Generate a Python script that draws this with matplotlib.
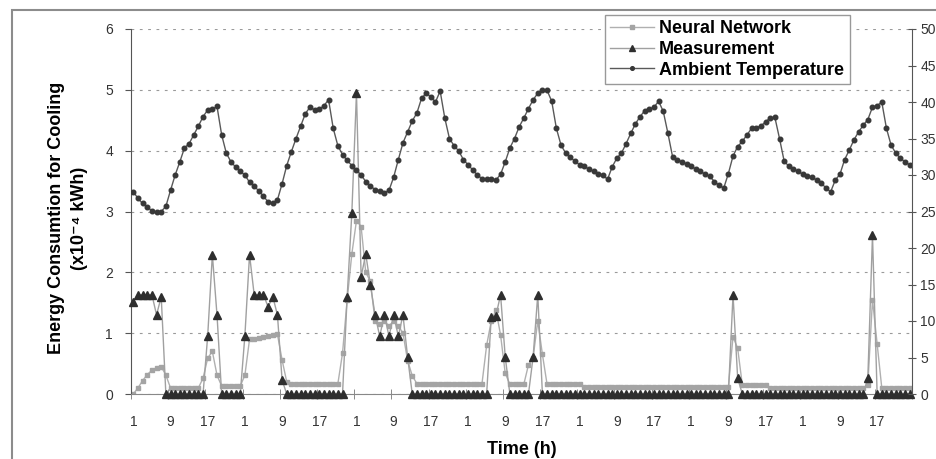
import matplotlib.pyplot as plt
import numpy as np
from matplotlib.patches import Rectangle

plt.rcParams['font.family'] = ['Liberation Sans', 'DejaVu Sans']

# hourly values over 7 days (168 h)
tick_labels = ['1', '9', '17'] * 7

# ambient temperature (deg C, right axis)
temperature = [
    27.7, 26.8, 26.1, 25.6, 25.1, 24.9, 25.0, 25.7, 27.9, 30.0, 31.8, 33.7,
    34.3, 35.5, 36.7, 38.0, 38.9, 39.0, 39.4, 35.5, 33.0, 31.8, 31.1, 30.5,
    30.0, 29.0, 28.5, 27.8, 27.1, 26.3, 26.1, 26.6, 28.8, 31.3, 33.2, 35.0,
    36.7, 38.4, 39.3, 38.9, 39.0, 39.5, 40.3, 36.4, 34.0, 32.8, 32.0, 31.3,
    30.7, 30.0, 29.1, 28.5, 28.0, 27.8, 27.6, 27.9, 29.7, 32.1, 34.4, 35.9,
    37.4, 38.5, 40.5, 41.2, 40.7, 40.0, 41.5, 37.8, 35.0, 34.0, 33.3, 32.1,
    31.4, 30.7, 30.0, 29.5, 29.4, 29.4, 29.3, 30.1, 31.8, 33.7, 35.0, 36.6,
    37.8, 39.1, 40.3, 41.2, 41.6, 41.6, 40.1, 36.4, 34.1, 33.0, 32.4, 31.9,
    31.4, 31.2, 30.8, 30.5, 30.2, 30.0, 29.4, 31.1, 32.3, 33.0, 34.3, 35.7,
    37.0, 38.0, 38.8, 39.0, 39.3, 40.1, 38.7, 35.7, 32.5, 32.1, 31.8, 31.5,
    31.2, 30.8, 30.5, 30.1, 29.8, 29.1, 28.6, 28.2, 30.2, 32.6, 33.9, 34.6,
    35.5, 36.4, 36.5, 36.7, 37.3, 37.8, 37.9, 35.0, 31.9, 31.2, 30.8, 30.5,
    30.1, 29.9, 29.7, 29.3, 28.9, 28.2, 27.7, 29.3, 30.1, 32.1, 33.4, 34.8,
    35.9, 36.8, 37.6, 39.3, 39.5, 40.0, 36.4, 34.1, 33.0, 32.3, 31.8, 31.4,
]

# measured cooling energy (x10^-4 kWh)
measurement = [
    1.52, 1.63, 1.63, 1.63, 1.63, 1.30, 1.60, 0, 0, 0, 0, 0,
    0, 0, 0, 0, 0.96, 2.29, 1.30, 0, 0, 0, 0, 0,
    0.96, 2.29, 1.63, 1.63, 1.63, 1.43, 1.60, 1.30, 0.23, 0, 0, 0,
    0, 0, 0, 0, 0, 0, 0, 0, 0, 0, 1.60, 2.97,
    4.95, 1.93, 2.30, 1.79, 1.30, 0.95, 1.30, 0.95, 1.30, 0.95, 1.30, 0.61,
    0, 0, 0, 0, 0, 0, 0, 0, 0, 0, 0, 0,
    0, 0, 0, 0, 0, 1.27, 1.29, 1.63, 0.61, 0, 0, 0,
    0, 0, 0.61, 1.63, 0, 0, 0, 0, 0, 0, 0, 0,
    0, 0, 0, 0, 0, 0, 0, 0, 0, 0, 0, 0,
    0, 0, 0, 0, 0, 0, 0, 0, 0, 0, 0, 0,
    0, 0, 0, 0, 0, 0, 0, 0, 0, 1.63, 0.26, 0,
    0, 0, 0, 0, 0, 0, 0, 0, 0, 0, 0, 0,
    0, 0, 0, 0, 0, 0, 0, 0, 0, 0, 0, 0,
    0, 0, 0.26, 2.61, 0, 0, 0, 0, 0, 0, 0, 0,
]

# neural network prediction (x10^-4 kWh)
neural_net = [
    0.00, 0.10, 0.22, 0.32, 0.39, 0.43, 0.45, 0.31, 0.10, 0.10, 0.10, 0.10,
    0.10, 0.10, 0.10, 0.26, 0.59, 0.70, 0.31, 0.13, 0.13, 0.13, 0.13, 0.13,
    0.31, 0.90, 0.90, 0.92, 0.93, 0.95, 0.97, 0.98, 0.56, 0.20, 0.17, 0.17,
    0.17, 0.17, 0.17, 0.17, 0.17, 0.17, 0.17, 0.17, 0.17, 0.67, 1.55, 2.30,
    2.85, 2.75, 2.00, 1.85, 1.20, 1.15, 1.20, 1.12, 1.20, 1.12, 1.00, 0.55,
    0.30, 0.17, 0.17, 0.17, 0.17, 0.17, 0.17, 0.17, 0.17, 0.17, 0.17, 0.17,
    0.17, 0.17, 0.17, 0.17, 0.80, 1.20, 1.38, 0.97, 0.34, 0.16, 0.16, 0.16,
    0.16, 0.48, 0.60, 1.20, 0.65, 0.16, 0.16, 0.16, 0.16, 0.16, 0.16, 0.16,
    0.16, 0.12, 0.12, 0.12, 0.12, 0.12, 0.12, 0.12, 0.12, 0.12, 0.12, 0.12,
    0.12, 0.12, 0.12, 0.12, 0.12, 0.12, 0.12, 0.12, 0.12, 0.12, 0.12, 0.12,
    0.12, 0.12, 0.12, 0.12, 0.12, 0.12, 0.12, 0.12, 0.12, 0.94, 0.75, 0.15,
    0.15, 0.15, 0.15, 0.15, 0.15, 0.10, 0.10, 0.10, 0.10, 0.10, 0.10, 0.10,
    0.10, 0.10, 0.10, 0.10, 0.10, 0.10, 0.10, 0.10, 0.10, 0.10, 0.10, 0.10,
    0.10, 0.10, 0.15, 1.55, 0.82, 0.10, 0.10, 0.10, 0.10, 0.10, 0.10, 0.10,
]

hours = np.arange(len(temperature))

fig = plt.figure(figsize=(9.36, 4.59), dpi=100)
ax = fig.add_axes([131 / 936, 1 - 394 / 459, 781 / 936, 365 / 459])
ax2 = ax.twinx()

# chart area frame (runs off the right/bottom edge like the crop)
fig.patches.append(Rectangle((12 / 936, -0.2), 1.2, 1.2 - 10 / 459,
                             transform=fig.transFigure, fill=False,
                             ec='#8c8c8c', lw=1.5))

l1, = ax.plot(hours, neural_net, color='#b0b0b0', lw=1, marker='s', ms=3.3,
              mfc='#a4a4a4', mec='#a4a4a4', label='Neural Network', zorder=2)
l2, = ax.plot(hours, measurement, color='#a0a0a0', lw=1, marker='^', ms=5.5,
              mfc='#2e2e2e', mec='#2e2e2e', label='Measurement', zorder=3,
              clip_on=False)
l3, = ax2.plot(hours, temperature, color='#595959', lw=1, marker='o', ms=3.3,
               mfc='#383838', mec='#383838', label='Ambient Temperature')

ax.set_xlim(-0.5, 167.5)
ax.set_ylim(0, 6)
ax2.set_ylim(0, 50)
ax.set_yticks(range(7))
ax2.set_yticks(range(0, 51, 5))
ax.set_xticks(hours[::8])
ax.set_xticklabels(tick_labels)
ax.set_xticks(np.arange(-0.5, 168, 8), minor=True)

ax.tick_params(axis='x', which='major', length=0, pad=15, labelsize=10, labelcolor='#333333')
ax.tick_params(axis='x', which='minor', length=7, direction='inout', color='#777777')
ax.tick_params(axis='y', length=4, direction='out', pad=9, labelsize=10,
               labelcolor='#333333', color='#555555')
ax2.tick_params(axis='y', length=6, direction='inout', pad=3, labelsize=10,
                labelcolor='#333333', color='#555555')

ax.yaxis.grid(True, linestyle=(0, (2.5, 5)), color='#9a9a9a', lw=0.8)
ax.set_axisbelow(True)

ax.spines['top'].set_visible(False)
ax.spines['right'].set_visible(False)
ax.spines['left'].set_color('#555555')
ax.spines['bottom'].set_color('#888888')
for s in ['top', 'left', 'bottom']:
    ax2.spines[s].set_visible(False)
ax2.spines['right'].set_color('#555555')

ax.set_xlabel('Time (h)', fontsize=13, fontweight='bold')
ax.xaxis.set_label_coords(0.5, -(441 - 394) / 365)

fig.text(68 / 936, 1 - 218 / 459, 'Energy Consumtion for Cooling\n(x10\u207b\u2074 kWh)',
         rotation=90, ha='center', va='center', fontsize=13, fontweight='bold',
         multialignment='center', linespacing=1.4)

fig.legend(handles=[l1, l2, l3], loc='upper left',
           bbox_to_anchor=(605 / 936, 1 - 15 / 459), frameon=True, fancybox=False,
           edgecolor='#999999', framealpha=1, prop={'weight': 'bold', 'size': 13},
           handlelength=2.4, handletextpad=0.3, labelspacing=0.2, borderpad=0.3,
           borderaxespad=0, markerscale=0.8)

fig.savefig('out.png', dpi=100)
